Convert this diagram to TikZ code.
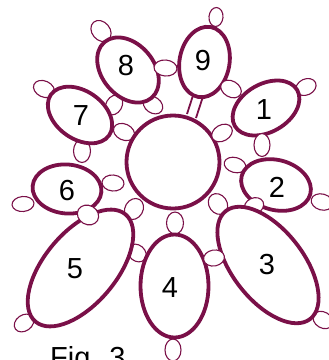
\documentclass[tikz,border=0pt]{standalone}
\usepackage{fontspec}
\setmainfont{Liberation Sans}
\definecolor{lace}{HTML}{7A1048}
\newcommand{\ringoval}[5]{\draw[ringline] (#1,#2) ellipse [x radius=#3pt,y radius=#4pt,rotate=#5];}
\newcommand{\picot}[5]{\draw[picotline] (#1,#2) ellipse [x radius=#3pt,y radius=#4pt,rotate=#5];}
\tikzset{
  ringline/.style={draw=lace,line width=3.8pt,fill=white},
  picotline/.style={draw=lace,line width=1.1pt,fill=white},
  numlabel/.style={font=\fontsize{29}{29}\selectfont,text=black,inner sep=0pt}
}
\begin{document}
\begin{tikzpicture}[x=1pt,y=-1pt]
\useasboundingbox (0,0) rectangle (329,360);
\clip (0,0) rectangle (329,360);
% picots behind rings
\picot{101}{31}{11.5}{9}{-50}
\picot{114}{105}{10.5}{8}{60}
\picot{153}{105}{10.5}{8}{-35}
\picot{44}{89}{11}{8}{-25}
\picot{124}{132}{11}{8}{-25}
\picot{82}{151}{11.5}{8.5}{90}
\picot{216}{17}{9.5}{7}{85}
\picot{306}{87}{10.5}{8}{25}
\picot{235}{165}{11}{7.5}{-15}
\picot{322}{202}{11}{8}{-15}
\picot{218}{204}{11}{9}{-55}
\picot{323}{320}{10.5}{8}{-30}
\picot{175}{223}{11}{8.5}{90}
\picot{173}{350}{11}{8}{90}
\picot{137}{253}{10}{8}{-40}
\picot{134}{209}{11}{9}{60}
\picot{24}{323}{10.5}{8}{35}
\picot{23}{204}{11}{7.5}{5}
\picot{113}{183}{11}{8}{-5}
% the two bars from ring 9 to the centre
\draw[lace,line width=1.8pt] (187,114) -- (192.5,97);
\draw[lace,line width=1.8pt] (196,118) -- (202.5,98);
% rings
\ringoval{173}{162}{46.5}{46.5}{0}
\ringoval{266}{108}{36}{24}{30}
\ringoval{276}{185}{35.5}{25}{-15}
\picot{254}{206}{10}{8}{25}
\ringoval{268}{265}{68.5}{35.5}{-52}
\ringoval{174.5}{286}{51.5}{34}{90}
\ringoval{80.5}{268}{70}{36}{50}
\ringoval{67}{189}{34.5}{24.5}{-5}
\ringoval{80}{115}{35.5}{24}{-35}
\ringoval{128}{70}{36.5}{26}{-50}
\ringoval{204.5}{62}{35.5}{25}{80}
% picots over rings
\picot{165.5}{68}{11.5}{8}{-5}
\picot{231}{89}{11}{8}{-30}
\picot{222}{133}{11}{8}{30}
\picot{214}{258}{10.5}{8}{10}
\picot{88}{215}{11}{9.5}{-30}
\picot{262}{145}{11.5}{8}{90}
% labels
\node[numlabel] (n1) at (264,110) {1};
\node[numlabel] (n2) at (277,187) {2};
\node[numlabel] (n3) at (267,265) {3};
\node[numlabel] (n4) at (170,288) {4};
\node[numlabel] (n5) at (75,269) {5};
\node[numlabel] (n6) at (67,191) {6};
\node[numlabel] (n7) at (81,116) {7};
\node[numlabel] (n8) at (126,66) {8};
\node[numlabel] (n9) at (203,61) {9};
\node[numlabel,anchor=base west] (fig) at (50,367) {Fig. 3};
\end{tikzpicture}
\end{document}
